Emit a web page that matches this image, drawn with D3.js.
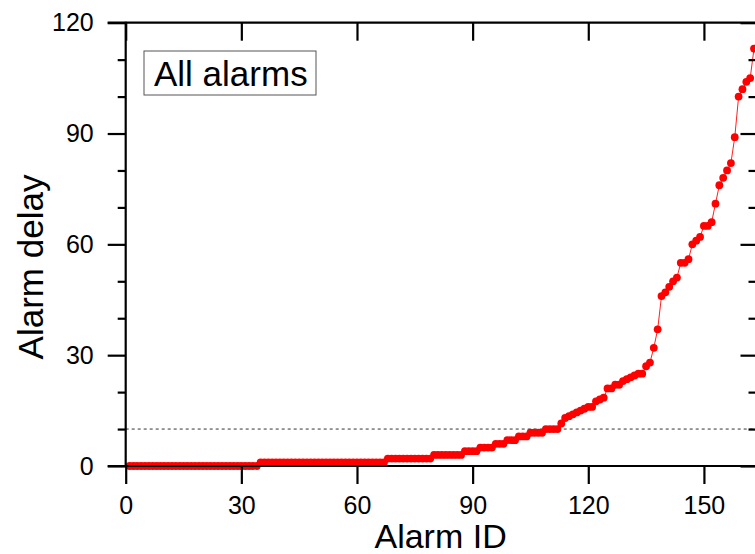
<!DOCTYPE html>
<html>
<head>
<meta charset="utf-8">
<script src="https://cdn.jsdelivr.net/npm/d3@7/dist/d3.min.js"></script>
<style>
  html, body { margin: 0; padding: 0; background: #fff; }
  svg { display: block; }
  text { font-family: "Liberation Sans", Arial, sans-serif; fill: #000; }
</style>
</head>
<body>
<svg id="chart" width="755" height="554"></svg>
<script>
// ---- data ----
const delays = [
  0,0,0,0,0,0,0,0,0,0, 0,0,0,0,0,0,0,0,0,0, 0,0,0,0,0,0,0,0,0,0, 0,0,0,0,
  1,1,1,1,1,1,1,1,1,1, 1,1,1,1,1,1,1,1,1,1, 1,1,1,1,1,1,1,1,1,1, 1,1,1,
  2,2,2,2,2,2,2,2,2,2,2,2,
  3,3,3,3,3,3,3,3,
  4,4,4,4,
  5,5,5,5,
  6,6,6,
  7,7,7,
  8,8,8,
  9,9,9,9,
  10,10,10,10,
  11.5,13,13.5,14,14.5,15,15.5,16,16,17.5,
  18,18.5,21,21,22,22,23,23.5,24,24.5,
  25,25,27,28,32,37,46,47,48.5,50,
  51,55,55,56,60,61,62,65,65,66,
  71,76,78,80,82,89,100,102,104,105,
  113
];
const alarmIds = delays.map((d, i) => i + 1);
const threshold = 10;
const xMajorTicks = [0, 30, 60, 90, 120, 150];
const yMajorTicks = [0, 30, 60, 90, 120];
const yMinorTicks = [10, 20, 40, 50, 70, 80, 100, 110];
const legendLabel = "All alarms";
const xTitle = "Alarm ID";
const yTitle = "Alarm delay";

// ---- layout ----
const svg = d3.select("#chart");
const pLeft = 125.7, pRight = 757.5, pTop = 22.7, pBottom = 466;
const x = d3.scaleLinear().domain([0, 163.9]).range([pLeft, pRight]);
const y = d3.scaleLinear().domain([0, 120]).range([pBottom, pTop]);

// threshold dashed line
svg.append("line")
  .attr("x1", pLeft).attr("x2", pRight)
  .attr("y1", y(threshold)).attr("y2", y(threshold))
  .attr("stroke", "#333").attr("stroke-width", 1)
  .attr("stroke-dasharray", "3,3");

// data line
const line = d3.line().x((d, i) => x(alarmIds[i])).y(d => y(d));
svg.append("path")
  .datum(delays)
  .attr("d", line)
  .attr("fill", "none")
  .attr("stroke", "#ff2020")
  .attr("stroke-width", 1);

// markers
svg.append("g").selectAll("circle")
  .data(delays)
  .join("circle")
  .attr("cx", (d, i) => x(alarmIds[i]))
  .attr("cy", d => y(d))
  .attr("r", 3.9)
  .attr("fill", "#ff0000");

// ---- axes ----
const axisW = 2.2;
function styleAxis(g) {
  g.select(".domain").remove();
  g.selectAll(".tick line").attr("stroke", "#000").attr("stroke-width", axisW);
  g.selectAll(".tick text").style("font-size", "25px").attr("fill", "#000");
}

// bottom
const gB = svg.append("g").attr("transform", `translate(0,${pBottom})`)
  .call(d3.axisBottom(x).tickValues(xMajorTicks).tickFormat(d3.format("d"))
    .tickSize(18).tickPadding(12));
styleAxis(gB);
gB.selectAll(".tick text").attr("dy", "0.71em");

// top (inward majors)
const gT = svg.append("g").attr("transform", `translate(0,${pTop})`)
  .call(d3.axisTop(x).tickValues(xMajorTicks).tickSize(-18).tickFormat(""));
styleAxis(gT);

// left (outward)
const gL = svg.append("g").attr("transform", `translate(${pLeft},0)`)
  .call(d3.axisLeft(y).tickValues(yMajorTicks).tickSize(18).tickPadding(14));
styleAxis(gL);
const gLm = svg.append("g").attr("transform", `translate(${pLeft},0)`)
  .call(d3.axisLeft(y).tickValues(yMinorTicks).tickSize(8).tickFormat(""));
styleAxis(gLm);

// right (inward)
const gR = svg.append("g").attr("transform", `translate(${pRight},0)`)
  .call(d3.axisRight(y).tickValues(yMajorTicks).tickSize(-17).tickFormat(""));
styleAxis(gR);
const gRm = svg.append("g").attr("transform", `translate(${pRight},0)`)
  .call(d3.axisRight(y).tickValues(yMinorTicks).tickSize(-9).tickFormat(""));
styleAxis(gRm);

// frame lines
svg.append("line").attr("x1", pLeft).attr("x2", pLeft).attr("y1", pTop - 1).attr("y2", pBottom + 1)
  .attr("stroke", "#000").attr("stroke-width", axisW);
svg.append("line").attr("x1", pLeft - 18).attr("x2", pRight).attr("y1", pTop).attr("y2", pTop)
  .attr("stroke", "#000").attr("stroke-width", axisW);
svg.append("line").attr("x1", pLeft - 18).attr("x2", pRight).attr("y1", pBottom).attr("y2", pBottom)
  .attr("stroke", "#000").attr("stroke-width", axisW);
svg.append("line").attr("x1", pRight).attr("x2", pRight).attr("y1", pTop).attr("y2", pBottom)
  .attr("stroke", "#000").attr("stroke-width", axisW);

// axis titles
svg.append("text")
  .attr("x", (pLeft + pRight) / 2 - 1).attr("y", 548)
  .attr("text-anchor", "middle")
  .style("font-size", "34px")
  .text(xTitle);
svg.append("text")
  .attr("transform", `translate(43,267) rotate(-90)`)
  .attr("text-anchor", "middle")
  .style("font-size", "35px")
  .text(yTitle);

// legend box
svg.append("rect")
  .attr("x", 144).attr("y", 51).attr("width", 172).attr("height", 44)
  .attr("fill", "#fff").attr("stroke", "#555").attr("stroke-width", 1);
svg.append("text")
  .attr("x", 154).attr("y", 86)
  .style("font-size", "35px")
  .text(legendLabel);
</script>
</body>
</html>
